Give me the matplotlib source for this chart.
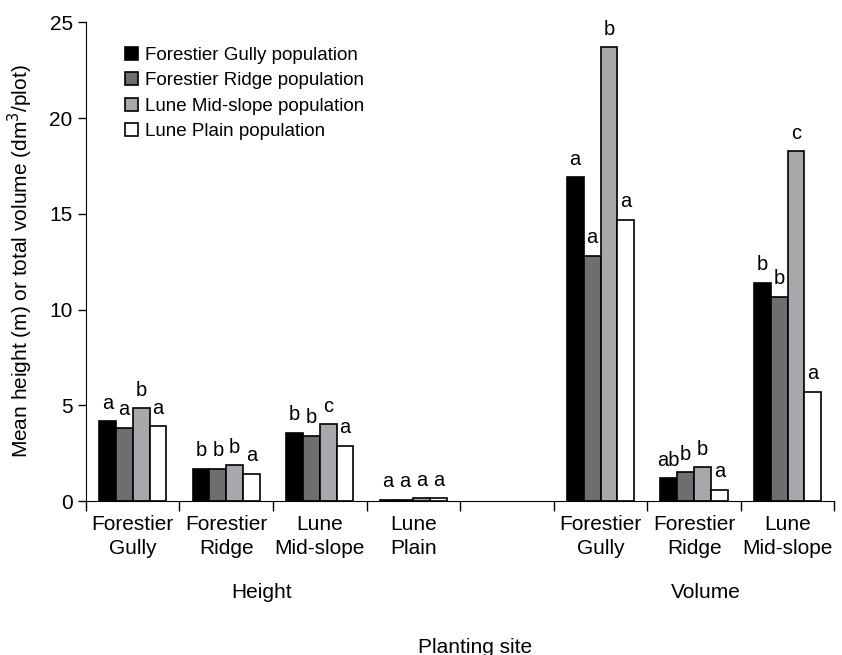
import matplotlib.pyplot as plt
import numpy as np

plt.rcParams['font.family'] = ['Liberation Sans', 'DejaVu Sans']

sites = ['Forestier\nGully', 'Forestier\nRidge', 'Lune\nMid-slope', 'Lune\nPlain', '',
         'Forestier\nGully', 'Forestier\nRidge', 'Lune\nMid-slope']
populations = ['Forestier Gully population', 'Forestier Ridge population',
               'Lune Mid-slope population', 'Lune Plain population']

# one list per population, slot 5 is the gap between height and volume
gully_pop = [4.17, 1.70, 3.58, 0.06, np.nan, 16.9, 1.18, 11.4]
ridge_pop = [3.83, 1.70, 3.41, 0.08, np.nan, 12.8, 1.51, 10.65]
midslope_pop = [4.84, 1.86, 4.00, 0.15, np.nan, 23.7, 1.76, 18.27]
plain_pop = [3.91, 1.43, 2.89, 0.15, np.nan, 14.68, 0.59, 5.71]

gully_let = ['a', 'b', 'b', 'a', '', 'a', 'ab', 'b']
ridge_let = ['a', 'b', 'b', 'a', '', 'a', 'b', 'b']
midslope_let = ['b', 'b', 'c', 'a', '', 'b', 'b', 'c']
plain_let = ['a', 'a', 'a', 'a', '', 'a', 'a', 'a']

series = [gully_pop, ridge_pop, midslope_pop, plain_pop]
letters = [gully_let, ridge_let, midslope_let, plain_let]
colors = ['#000000', '#6d6e70', '#a7a8ab', '#ffffff']

fig = plt.figure(figsize=(8.42, 6.55), dpi=100)
ax = fig.add_axes([0.102, 0.235, 0.889, 0.731])

x = np.arange(len(sites))
w = 0.18
for i, vals in enumerate(series):
    pos = x + (i - 1.5) * w
    ax.bar(pos, vals, w, color=colors[i], edgecolor='black',
           linewidth=1.2, label=populations[i])
    for p, v, t in zip(pos, vals, letters[i]):
        if t:
            ax.text(p, v + 0.45, t, ha='center', va='bottom', fontsize=14.5)

ax.set_xlim(-0.5, 7.5)
ax.set_ylim(0, 25)
ax.set_yticks([0, 5, 10, 15, 20, 25])
ax.tick_params(axis='y', labelsize=15, length=6, width=1)
ax.set_xticks(x)
ax.set_xticklabels(sites, fontsize=15, linespacing=1.35)
ax.tick_params(axis='x', length=0, pad=10)
ax.set_xticks(np.arange(-0.5, 8, 1), minor=True)
ax.tick_params(axis='x', which='minor', length=7, width=1)
ax.spines['top'].set_visible(False)
ax.spines['right'].set_visible(False)

ax.set_ylabel('Mean height (m) or total volume (dm$^3$/plot)', fontsize=15, labelpad=10)

ax.text(1.38, -0.19, 'Height', transform=ax.get_xaxis_transform(),
        ha='center', va='center', fontsize=15)
ax.text(6.13, -0.19, 'Volume', transform=ax.get_xaxis_transform(),
        ha='center', va='center', fontsize=15)
fig.text(0.564, 0.012, 'Planting site', ha='center', va='center', fontsize=15)

ax.legend(loc='upper left', bbox_to_anchor=(0.042, 0.965), frameon=False,
          fontsize=13.5, handlelength=0.7, handleheight=0.7, handletextpad=0.4,
          labelspacing=0.45, borderaxespad=0)

fig.savefig('out.png', dpi=100)
